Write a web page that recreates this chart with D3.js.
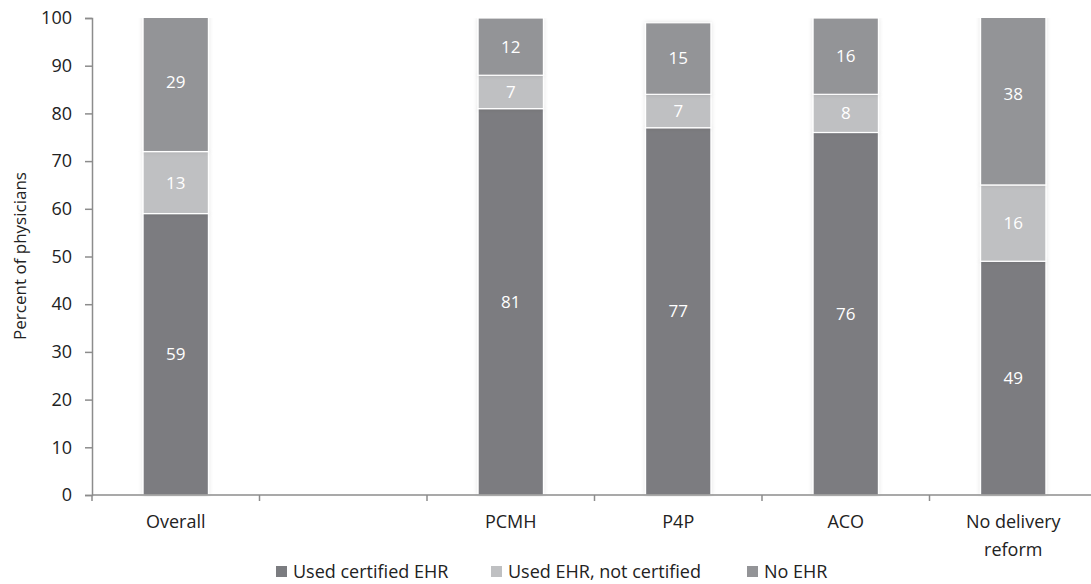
<!DOCTYPE html>
<html>
<head>
<meta charset="utf-8">
<script src="https://cdn.jsdelivr.net/npm/d3@7"></script>
<style>
  html, body { margin: 0; padding: 0; background: #fff; }
  svg { display: block; font-family: "Open Sans", Lato, sans-serif; }
</style>
</head>
<body>
<svg id="chart" width="1091" height="584"></svg>
<script>
// Physician EHR use by delivery-reform participation (percent)
const categories = ["Overall", "", "PCMH", "P4P", "ACO", "No delivery reform"];
const seriesNames = ["Used certified EHR", "Used EHR, not certified", "No EHR"];
const certified    = [59, null, 81, 77, 76, 49];
const notCertified = [13, null, 7, 7, 8, 16];
const noEhr        = [29, null, 12, 15, 16, 38];
const yTicks = [0, 10, 20, 30, 40, 50, 60, 70, 80, 90, 100];
const colors = ["#7b7c80", "#bfc0c2", "#939497"];

const svg = d3.select("#chart");
const x = d3.scaleBand().domain(d3.range(categories.length)).range([92, 1097]).paddingInner(0).paddingOuter(0);
const y = d3.scaleLinear().domain([0, 100]).range([495, 18]);

const defs = svg.append("defs");
// plot area: bars stacking past the axis maximum are cut at 100
defs.append("clipPath").attr("id", "plot")
  .append("rect").attr("x", 92).attr("y", y(100)).attr("width", 1005).attr("height", y(0) - y(100) + 2);
const f = defs.append("filter").attr("id", "soft").attr("x", "-20%").attr("y", "-5%").attr("width", "140%").attr("height", "110%");
f.append("feGaussianBlur").attr("in", "SourceAlpha").attr("stdDeviation", 2).attr("result", "b");
f.append("feFlood").attr("flood-color", "#000").attr("flood-opacity", 0.12);
f.append("feComposite").attr("in2", "b").attr("operator", "in").attr("result", "s");
const m = f.append("feMerge");
m.append("feMergeNode").attr("in", "s");
m.append("feMergeNode").attr("in", "SourceGraphic");

// Stacked rows
const rows = categories.map((c, i) => ({ i, a: certified[i], b: notCertified[i], c: noEhr[i] }))
  .filter(d => d.a != null);
const stack = d3.stack().keys(["a", "b", "c"]);
const layers = stack(rows);

const barW = x.bandwidth() * 0.39;

const g = svg.append("g").attr("clip-path", "url(#plot)");
layers.forEach((layer, k) => {
  const lg = g.append("g").attr("filter", "url(#soft)");
  lg.selectAll("rect").data(layer).join("rect")
    .attr("x", d => x(d.data.i) + x.bandwidth() / 2 - barW / 2)
    .attr("width", barW)
    .attr("y", d => y(d[1]))
    .attr("height", d => y(d[0]) - y(d[1]))
    .attr("fill", colors[k])
    .attr("stroke", "#fff")
    .attr("stroke-width", 1.2);
});
const lab = svg.append("g");
layers.forEach((layer, k) => {
  lab.append("g").selectAll("text").data(layer).join("text")
    .attr("x", d => x(d.data.i) + x.bandwidth() / 2)
    .attr("y", d => y((d[0] + d[1]) / 2))
    .attr("dy", "0.35em")
    .attr("text-anchor", "middle")
    .attr("fill", "#fff")
    .attr("font-size", 17)
    .text(d => d[1] - d[0]);
});

// Y axis
const yAxis = svg.append("g").attr("transform", "translate(92,0)")
  .call(d3.axisLeft(y).tickValues(yTicks).tickSize(7).tickPadding(13));
yAxis.select(".domain").attr("stroke", "#8c8c8c").attr("stroke-width", 1.5);
yAxis.selectAll(".tick line").attr("stroke", "#8c8c8c").attr("stroke-width", 1.5);
yAxis.selectAll(".tick text").attr("font-size", 18).attr("fill", "#222").attr("font-family", "'Open Sans', Lato, sans-serif");

// X axis with ticks at band boundaries
const xg = svg.append("g");
xg.append("line").attr("x1", 92).attr("x2", 1097).attr("y1", y(0)).attr("y2", y(0))
  .attr("stroke", "#8c8c8c").attr("stroke-width", 1.5);
d3.range(categories.length + 1).forEach(i => {
  const px = 92 + i * x.bandwidth();
  xg.append("line").attr("x1", px).attr("x2", px).attr("y1", y(0)).attr("y2", y(0) + 6)
    .attr("stroke", "#8c8c8c").attr("stroke-width", 1.5);
});
categories.forEach((c, i) => {
  if (!c) return;
  const lines = c === "No delivery reform" ? ["No delivery", "reform"] : [c];
  const t = xg.append("text").attr("x", x(i) + x.bandwidth() / 2).attr("y", 528)
    .attr("text-anchor", "middle").attr("font-size", 18).attr("fill", "#222");
  lines.forEach((l, j) => t.append("tspan").attr("x", x(i) + x.bandwidth() / 2).attr("dy", j ? 28 : 0).text(l));
});

// Y axis title
svg.append("text").attr("transform", "translate(26,256) rotate(-90)")
  .attr("text-anchor", "middle").attr("font-size", 17).attr("fill", "#222")
  .text("Percent of physicians");

// Legend
const legX = [276, 491, 747];
seriesNames.forEach((n, k) => {
  svg.append("rect").attr("x", legX[k]).attr("y", 566).attr("width", 11).attr("height", 11).attr("fill", colors[k]);
  svg.append("text").attr("x", legX[k] + 17).attr("y", 578).attr("font-size", 18).attr("fill", "#222").text(n);
});
</script>
</body>
</html>
